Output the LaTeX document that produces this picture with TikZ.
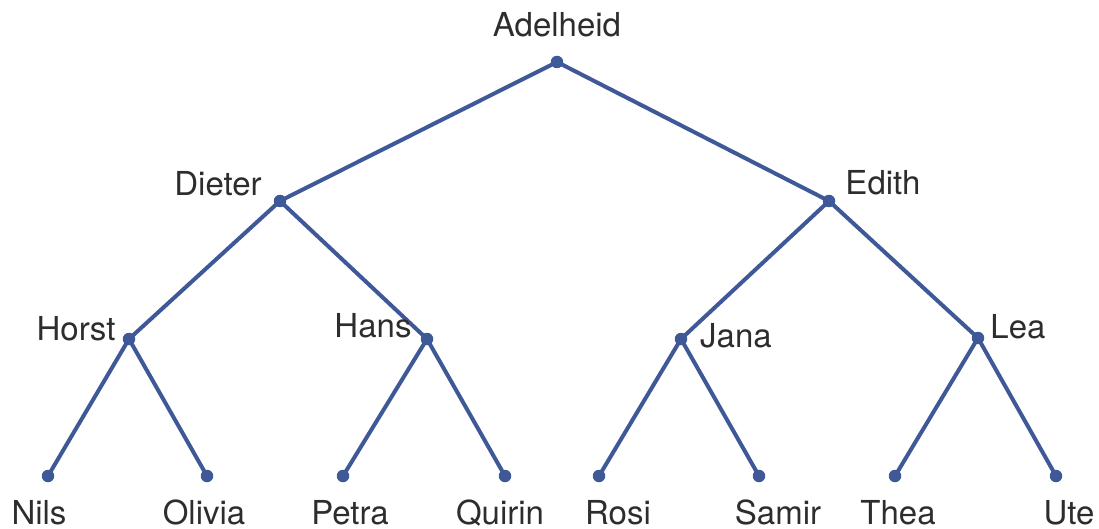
\documentclass[tikz,border=0pt]{standalone}
\usepackage{fontspec}
\setmainfont{TeX Gyre Heros}
\usepackage{xcolor}
\usepackage{tikz}

\definecolor{treeblue}{RGB}{63,88,152}
\definecolor{namegray}{RGB}{45,45,45}

\tikzset{
    dot/.style={circle, fill=treeblue, inner sep=0pt, minimum size=12.5pt},
    edge/.style={draw=treeblue, line width=4pt},
    persontext/.style={anchor=base, inner sep=0pt, text=namegray, font=\fontsize{33}{40}\selectfont}
}

\begin{document}
\begin{tikzpicture}[x=1pt, y=-1pt]
    \useasboundingbox (0,0) rectangle (1099,529);
    % the persons
    \foreach \n/\x/\y in {adelheid/557/62, dieter/280/201, edith/829/201,
        horst/129/339, hans/427/339, jana/681/339, lea/978/338,
        nils/48/476, olivia/207/476, petra/343/476, quirin/505/476,
        rosi/599/476, samir/759/476, thea/895/476, ute/1056/476}
        \node[dot] (\n) at (\x,\y) {};
    % parent to child
    \foreach \a/\b in {adelheid/dieter, adelheid/edith, dieter/horst, dieter/hans,
        edith/jana, edith/lea, horst/nils, horst/olivia, hans/petra, hans/quirin,
        jana/rosi, jana/samir, lea/thea, lea/ute}
        \draw[edge] (\a.center) -- (\b.center);
    % names
    \foreach \n/\x/\y/\t in {adelheid/557/37/Adelheid, dieter/218/196/Dieter,
        edith/883/195/Edith, horst/76/340/Horst, hans/373/337/Hans,
        jana/736/347/Jana, lea/1018/338/Lea,
        nils/39/524/Nils, olivia/204/524/Olivia, petra/350/524/Petra,
        quirin/500/524/Quirin, rosi/618/524/Rosi, samir/778/524/Samir,
        thea/898/524/Thea, ute/1069/524/Ute}
        \node[persontext] (l\n) at (\x,\y) {\t};
\end{tikzpicture}
\end{document}
